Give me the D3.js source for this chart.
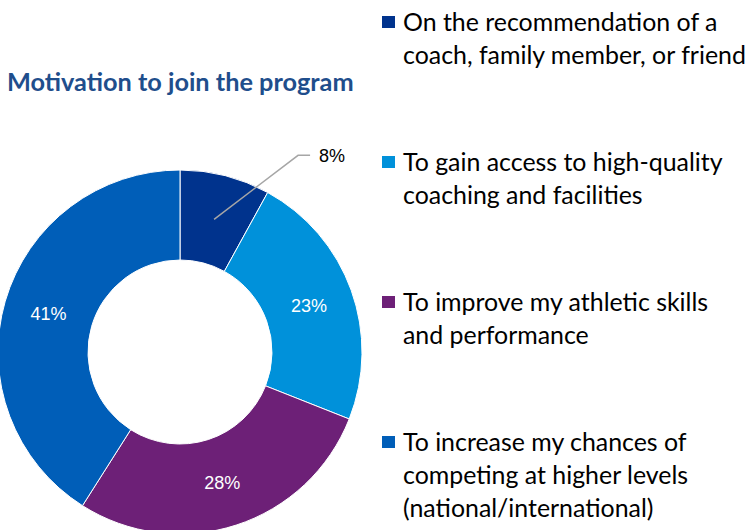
<!DOCTYPE html>
<html>
<head>
<meta charset="utf-8">
<script src="https://cdn.jsdelivr.net/npm/d3@7"></script>
<style>
  body { margin: 0; background: #fff; }
  svg { display: block; }
</style>
</head>
<body>
<svg id="chart" width="753" height="530"></svg>
<script>
// data
var categories = [
  "On the recommendation of a coach, family member, or friend",
  "To gain access to high-quality coaching and facilities",
  "To improve my athletic skills and performance",
  "To increase my chances of competing at higher levels (national/international)"
];
var legendLines = [
  ["On the recommendation of a", "coach, family member, or friend"],
  ["To gain access to high-quality", "coaching and facilities"],
  ["To improve my athletic skills", "and performance"],
  ["To increase my chances of", "competing at higher levels", "(national/international)"]
];
var values = [8, 23, 28, 41];
var colors = ["#00338D", "#0091DA", "#6D2077", "#005EB8"];

var svg = d3.select("#chart");

// title
svg.append("text")
  .attr("x", 7)
  .attr("y", 91)
  .style("font-family", "Lato, 'Open Sans', sans-serif")
  .style("font-weight", 700)
  .style("font-size", "25.3px")
  .style("fill", "#1F4E8C")
  .text("Motivation to join the program");

var cx = 180, cy = 352, outerR = 182, innerR = 92;

var pie = d3.pie().sort(null).value(d => d);
var arc = d3.arc().innerRadius(innerR).outerRadius(outerR);

var arcs = pie(values);

var g = svg.append("g").attr("transform", "translate(" + cx + "," + cy + ")");

g.selectAll("path.slice")
  .data(arcs)
  .enter().append("path")
  .attr("class", "slice")
  .attr("d", arc)
  .attr("fill", (d, i) => colors[i])
  .attr("stroke", "#fff")
  .attr("stroke-width", 1);

// labels inside slices (all but the small one)
g.selectAll("text.pct")
  .data(arcs.filter(d => d.data >= 10))
  .enter().append("text")
  .attr("class", "pct")
  .attr("transform", d => "translate(" + arc.centroid(d) + ")")
  .attr("text-anchor", "middle")
  .attr("dy", "0.35em")
  .style("font-family", "'Liberation Sans', Arial, sans-serif")
  .style("font-size", "18px")
  .style("fill", "#fff")
  .text(d => d.data + "%");

// small slice: label outside with leader line
arcs.filter(d => d.data < 10).forEach(function(d) {
  var c = arc.centroid(d);
  var elbow = [c[0] + 84, c[1] - 64];
  var end = [elbow[0] + 12, elbow[1]];
  g.append("polyline")
    .attr("points", [c, elbow, end].map(p => p.join(",")).join(" "))
    .attr("fill", "none")
    .attr("stroke", "#A6A6A6")
    .attr("stroke-width", 1.5);
  g.append("text")
    .attr("x", end[0] + 9)
    .attr("y", end[1])
    .attr("dy", "0.35em")
    .style("font-family", "'Liberation Sans', Arial, sans-serif")
    .style("font-size", "18px")
    .style("fill", "#000")
    .text(d.data + "%");
});

// legend
var legendY = [22, 162, 302, 442];
var lineH = 33;

var legend = svg.append("g").selectAll("g.item")
  .data(categories)
  .enter().append("g")
  .attr("class", "item")
  .attr("transform", (d, i) => "translate(382," + legendY[i] + ")");

legend.append("rect")
  .attr("x", 0)
  .attr("y", -6)
  .attr("width", 13)
  .attr("height", 12)
  .attr("fill", (d, i) => colors[i]);

legend.append("text")
  .style("font-family", "Lato, 'Open Sans', sans-serif")
  .style("font-size", "24.9px")
  .style("fill", "#000")
  .each(function(d, i) {
    var t = d3.select(this);
    legendLines[i].forEach(function(line, j) {
      t.append("tspan")
        .attr("x", 21)
        .attr("y", j * lineH)
        .attr("dy", "0.36em")
        .text(line);
    });
  });
</script>
</body>
</html>
